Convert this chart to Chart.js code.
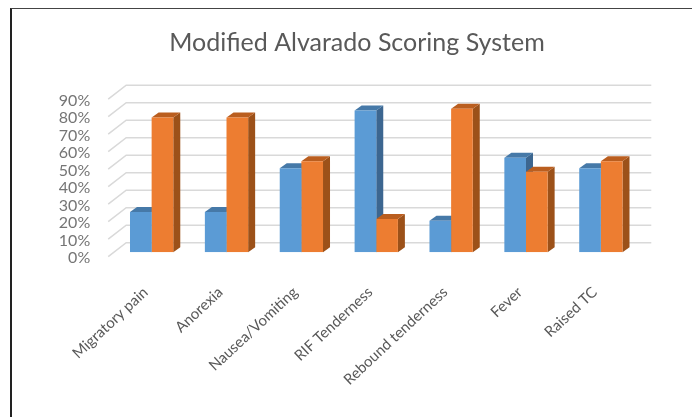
<!DOCTYPE html>
<html>
<head>
<meta charset="utf-8">
<script src="https://cdn.jsdelivr.net/npm/chart.js@4"></script>
<style>
    body { margin: 0; background: #fff; }
    #wrap { position: relative; width: 692px; height: 417px; overflow: hidden; }
    #frame { position: absolute; left: 10px; top: 8px; right: -5px; bottom: -5px; border-left: 2px solid #222; border-top: 1px solid #444; }
    canvas { position: absolute; left: 0; top: 0; display: block; }
</style>
</head>
<body>
<div id="wrap">
    <div id="frame"></div>
    <canvas id="alvaradoChart" width="692" height="417"></canvas>
</div>
<script>
const categories = ['Migratory pain', 'Anorexia', 'Nausea/Vomiting', 'RIF Tenderness', 'Rebound tenderness', 'Fever', 'Raised TC'];
const blueValues = [23, 23, 48, 81, 18, 54, 48];
const orangeValues = [77, 77, 52, 19, 82, 46, 52];
const tickStep = 10;
const tickMax = 90;

// Side and top faces of the fake 3D bars, offset from the real bar elements
const barDepth = { x: 7, y: 5 };
const faceColors = [
    { top: '#4679A8', side: '#3C6690' },
    { top: '#BA5E1F', side: '#9C5119' }
];

const depthPlugin = {
    id: 'depth',
    beforeDatasetsDraw(chart) {
        const ctx = chart.ctx;
        const yScale = chart.scales.y;
        const area = chart.chartArea;

        // back wall gridlines plus the little floor stubs on the left
        ctx.save();
        ctx.strokeStyle = '#D9D9D9';
        ctx.lineWidth = 1.5;
        for (let v = 0; v <= tickMax; v += tickStep) {
            const y = yScale.getPixelForValue(v);
            ctx.beginPath();
            ctx.moveTo(area.left - 6, y + 4.4);
            ctx.lineTo(area.left + 12, y - 9.6);
            ctx.lineTo(area.right + 13, y - 9.6);
            ctx.stroke();
        }
        ctx.restore();

        ctx.save();
        chart.data.datasets.forEach(function (ds, i) {
            chart.getDatasetMeta(i).data.forEach(function (bar) {
                const p = bar.getProps(['x', 'y', 'base', 'width'], true);
                const x0 = p.x - p.width / 2;
                const x1 = p.x + p.width / 2;
                ctx.fillStyle = faceColors[i].side;
                ctx.beginPath();
                ctx.moveTo(x1, p.y);
                ctx.lineTo(x1 + barDepth.x, p.y - barDepth.y);
                ctx.lineTo(x1 + barDepth.x, p.base - barDepth.y);
                ctx.lineTo(x1, p.base);
                ctx.closePath();
                ctx.fill();
                ctx.fillStyle = faceColors[i].top;
                ctx.beginPath();
                ctx.moveTo(x0, p.y);
                ctx.lineTo(x0 + barDepth.x, p.y - barDepth.y);
                ctx.lineTo(x1 + barDepth.x, p.y - barDepth.y);
                ctx.lineTo(x1, p.y);
                ctx.closePath();
                ctx.fill();
            });
        });
        ctx.restore();
    }
};

new Chart(document.getElementById('alvaradoChart'), {
    type: 'bar',
    data: {
        labels: categories,
        datasets: [
            { label: 'Series 1', data: blueValues, backgroundColor: '#5B9BD5' },
            { label: 'Series 2', data: orangeValues, backgroundColor: '#ED7D31' }
        ]
    },
    options: {
        responsive: false,
        animation: false,
        layout: { padding: { left: 54, right: 32, top: 0, bottom: 0 } },
        datasets: { bar: { barPercentage: 1, categoryPercentage: 0.578 } },
        scales: {
            x: {
                afterFit(scale) { scale.height = 164.7; scale.paddingLeft = 0; scale.paddingRight = 53.7; },
                grid: { display: false, drawTicks: false },
                border: { display: false },
                ticks: {
                    autoSkip: false,
                    minRotation: 43,
                    maxRotation: 43,
                    padding: 31,
                    labelOffset: -6,
                    color: '#595959',
                    font: { family: 'Lato', size: 15 }
                }
            },
            y: {
                min: 0,
                max: tickMax,
                afterFit(scale) { scale.width = 60.2; },
                grid: { display: false, drawTicks: false },
                border: { display: false },
                ticks: {
                    autoSkip: false,
                    stepSize: tickStep,
                    padding: 24,
                    labelOffset: 6,
                    color: '#757575',
                    font: { family: 'Lato', size: 16 },
                    callback: function (v) { return v + '%'; }
                }
            }
        },
        plugins: {
            legend: { display: false },
            tooltip: { enabled: false },
            title: {
                display: true,
                text: 'Modified Alvarado Scoring System',
                color: '#595959',
                font: { family: 'Lato', size: 25, weight: 'normal' },
                padding: { top: 27.5, bottom: 37.3 }
            }
        }
    },
    plugins: [depthPlugin]
});
</script>
</body>
</html>
